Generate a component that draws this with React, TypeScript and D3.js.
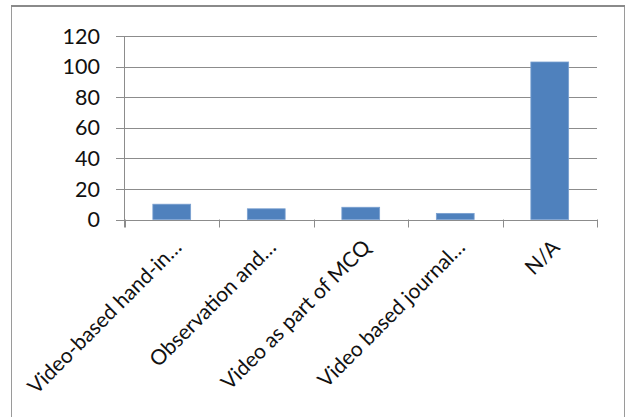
import React from "react";
import * as d3 from "d3";

const categories = [
  "Video-based hand-in…",
  "Observation and…",
  "Video as part of MCQ",
  "Video based journal…",
  "N/A",
];
const values = [10, 7, 8, 4, 103];
const yTicks = [0, 20, 40, 60, 80, 100, 120];

const W = 626;
const H = 417;
const left = 124.5;
const right = 597;
const top = 36;
const bottom = 219.5;
const FONT = "Lato, 'Open Sans', sans-serif";

export default function App() {
  const x = d3
    .scaleBand<string>()
    .domain(categories)
    .range([left, right])
    .paddingInner(0.6)
    .paddingOuter(0.3);
  const y = d3.scaleLinear().domain([0, 120]).range([bottom, top]);
  const bandEdges = d3.range(categories.length + 1).map((i) => left + i * ((right - left) / categories.length));

  return (
    <svg
      width={W}
      height={H}
      style={{ position: "absolute", left: 0, top: 0, background: "#fff" }}
      fontFamily={FONT}
    >
      <rect x={0} y={0} width={W} height={H} fill="#fff" />
      {/* chart frame */}
      <line x1={11.5} y1={6} x2={11.5} y2={H} stroke="#9a9a9a" strokeWidth={1} />
      <line x1={624.5} y1={6} x2={624.5} y2={H} stroke="#9a9a9a" strokeWidth={1} />
      <line x1={11} y1={6} x2={625} y2={6} stroke="#8a8a8a" strokeWidth={2} />

      {/* gridlines */}
      {yTicks.map((t) => (
        <line
          key={t}
          x1={116}
          x2={right}
          y1={Math.round(y(t)) + 0.5}
          y2={Math.round(y(t)) + 0.5}
          stroke="#8c8c8c"
          strokeWidth={1}
        />
      ))}
      {/* y axis */}
      <line x1={left} x2={left} y1={top} y2={bottom + 8} stroke="#8c8c8c" strokeWidth={1} />
      {/* x ticks */}
      {bandEdges.map((bx, i) => (
        <line
          key={i}
          x1={Math.round(bx) + 0.5}
          x2={Math.round(bx) + 0.5}
          y1={bottom}
          y2={bottom + 8}
          stroke="#8c8c8c"
          strokeWidth={1}
        />
      ))}

      {/* bars */}
      {categories.map((c, i) => (
        <rect
          key={c}
          x={x(c)!}
          y={y(values[i])}
          width={x.bandwidth()}
          height={bottom - y(values[i])}
          fill="#4f81bd"
          stroke="#7aa0d0"
          strokeWidth={0.8}
        />
      ))}

      {/* y labels */}
      {yTicks.map((t) => (
        <text
          key={t}
          x={100}
          y={y(t)}
          dy="0.36em"
          textAnchor="end"
          fontSize={21.5}
          fill="#111"
        >
          {t}
        </text>
      ))}

      {/* x labels */}
      {categories.map((c) => {
        const cx = x(c)! + x.bandwidth() / 2;
        return (
          <text
            key={c}
            transform={`translate(${cx + 6},${bottom + 24}) rotate(-45)`}
            textAnchor="end"
            dy="0.35em"
            fontSize={21}
            fill="#111"
          >
            {c}
          </text>
        );
      })}
    </svg>
  );
}
